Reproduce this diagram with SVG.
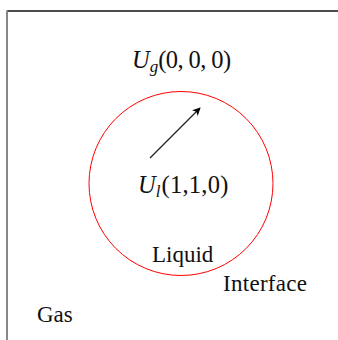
<svg xmlns="http://www.w3.org/2000/svg" width="338" height="340" viewBox="0 0 338 340">
<defs>
<marker id="ah" viewBox="0 0 10 10" refX="9" refY="5" markerWidth="8" markerHeight="8" markerUnits="userSpaceOnUse" orient="auto"><path d="M0,0 L10,5 L0,10 L2.5,5 Z" fill="#000"/></marker>
</defs>
<style>
text{font-family:"Liberation Serif","Times New Roman",serif;font-size:23px;fill:#111}
.m{font-size:24.5px}
.it{font-style:italic}
.sub{font-size:17px;font-style:italic}
</style>
<rect width="338" height="340" fill="#fff"/>
<g id="frame">
<line x1="7" y1="11" x2="338" y2="11" stroke="#111" stroke-width="1.5"/>
<line x1="7" y1="10.5" x2="7" y2="340" stroke="#888" stroke-width="2"/>
</g>
<g id="liquid-drop">
<circle cx="181" cy="183.5" r="92" fill="none" stroke="#f00" stroke-width="1"/>
</g>
<g id="connectors">
<line x1="150" y1="158" x2="200" y2="108" stroke="#222" stroke-width="1.2" marker-end="url(#ah)"/>
</g>
<g id="label-ug">
<text class="m" x="132" y="68"><tspan class="it">U</tspan><tspan class="sub" dy="4">g</tspan><tspan dy="-4" textLength="73">(0, 0, 0)</tspan></text>
</g>
<g id="label-ul">
<text class="m" x="138" y="193"><tspan class="it">U</tspan><tspan class="sub" dy="4">l</tspan><tspan dy="-4" dx="1" textLength="67">(1,1,0)</tspan></text>
</g>
<g id="label-liquid"><text x="152" y="262">Liquid</text></g>
<g id="label-interface"><text x="223" y="291" textLength="84">Interface</text></g>
<g id="label-gas"><text x="37" y="322">Gas</text></g>
</svg>
